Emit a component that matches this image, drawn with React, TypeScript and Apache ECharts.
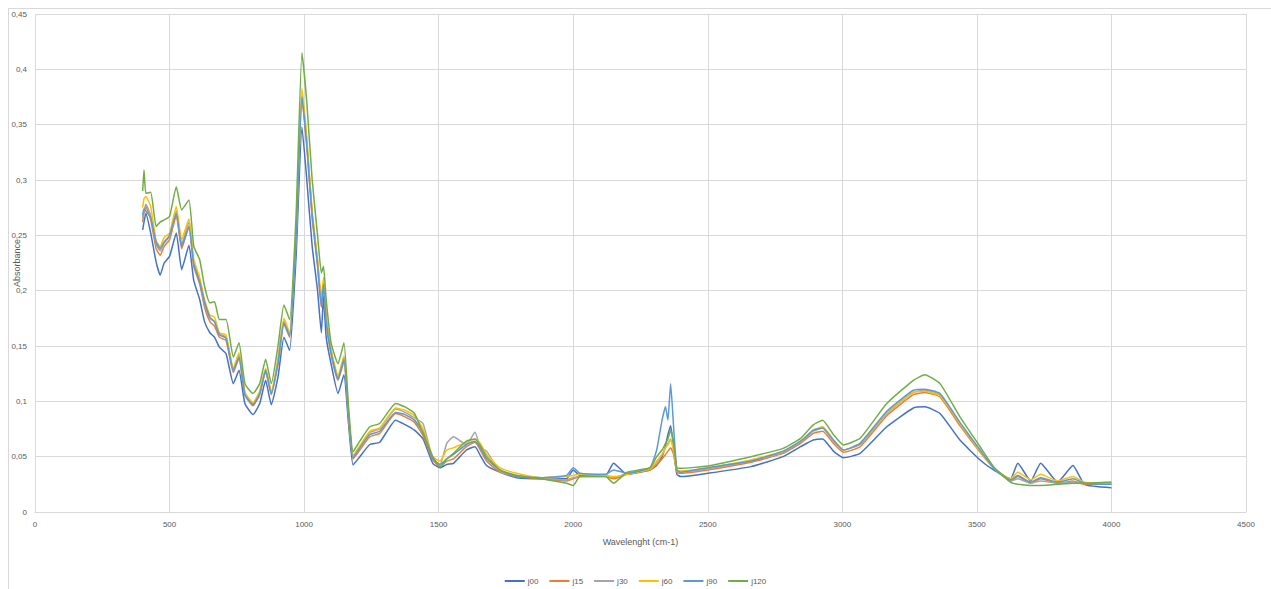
import React, { useEffect, useRef } from "react";
import * as echarts from "echarts";

const wavelengths = [
  400, 405, 412, 430, 450, 465, 480, 500, 525, 545, 572, 590, 612, 630, 650, 667, 685, 710, 737, 758,
  780, 810, 835, 857, 878, 903, 925, 946, 970, 992, 1010, 1030, 1050, 1064, 1072, 1082, 1100, 1126, 1148, 1165,
  1182, 1207, 1244, 1281, 1340, 1375, 1410, 1442, 1478, 1505, 1530, 1555, 1603, 1635, 1655, 1678, 1727, 1790, 1880, 1975,
  2000, 2025, 2120, 2150, 2200, 2285, 2310, 2330, 2343, 2352, 2362, 2373, 2385, 2400, 2500, 2660, 2780, 2845, 2892, 2927,
  2967, 3004, 3066, 3165, 3264, 3307, 3363, 3437, 3512, 3562, 3625, 3652, 3700, 3737, 3800, 3857, 3900, 4000,
];

const j00 = [
  0.255, 0.262, 0.27, 0.252, 0.226, 0.214, 0.225, 0.231, 0.252, 0.219, 0.241, 0.209, 0.192, 0.172, 0.162, 0.158, 0.149, 0.143, 0.116, 0.128,
  0.098, 0.088, 0.098, 0.119, 0.097, 0.122, 0.158, 0.146, 0.23, 0.348, 0.3, 0.24, 0.2, 0.162, 0.195, 0.158, 0.134, 0.107, 0.124, 0.08,
  0.0425, 0.05, 0.061, 0.063, 0.083, 0.079, 0.074, 0.066, 0.044, 0.04, 0.043, 0.044, 0.056, 0.059, 0.051, 0.042, 0.036, 0.031, 0.03, 0.03,
  0.038, 0.033, 0.033, 0.044, 0.034, 0.038, 0.042, 0.05, 0.06, 0.07, 0.078, 0.06, 0.034, 0.032, 0.035, 0.041, 0.05, 0.059, 0.065, 0.066,
  0.055, 0.049, 0.053, 0.077, 0.094, 0.095, 0.089, 0.065, 0.047, 0.038, 0.03, 0.044, 0.028, 0.044, 0.027, 0.042, 0.025, 0.022,
];

const j15 = [
  0.262, 0.27, 0.276, 0.264, 0.238, 0.232, 0.24, 0.246, 0.268, 0.238, 0.258, 0.222, 0.206, 0.185, 0.172, 0.168, 0.158, 0.155, 0.126, 0.139,
  0.106, 0.096, 0.106, 0.127, 0.106, 0.134, 0.17, 0.158, 0.246, 0.375, 0.33, 0.265, 0.222, 0.185, 0.205, 0.172, 0.143, 0.119, 0.136, 0.086,
  0.048, 0.056, 0.068, 0.071, 0.089, 0.086, 0.081, 0.069, 0.047, 0.041, 0.046, 0.048, 0.059, 0.063, 0.056, 0.046, 0.036, 0.032, 0.03, 0.028,
  0.03, 0.032, 0.032, 0.03, 0.034, 0.038, 0.043, 0.048, 0.052, 0.055, 0.058, 0.052, 0.036, 0.035, 0.038, 0.045, 0.053, 0.062, 0.071, 0.073,
  0.062, 0.054, 0.059, 0.087, 0.106, 0.108, 0.104, 0.078, 0.054, 0.04, 0.028, 0.032, 0.026, 0.03, 0.026, 0.028, 0.025, 0.025,
];

const j30 = [
  0.265, 0.272, 0.278, 0.268, 0.242, 0.236, 0.243, 0.249, 0.272, 0.242, 0.262, 0.225, 0.209, 0.188, 0.175, 0.172, 0.161, 0.158, 0.129, 0.142,
  0.108, 0.098, 0.108, 0.129, 0.108, 0.137, 0.173, 0.161, 0.25, 0.377, 0.335, 0.27, 0.226, 0.19, 0.208, 0.176, 0.146, 0.122, 0.14, 0.089,
  0.05, 0.059, 0.072, 0.075, 0.093, 0.09, 0.085, 0.08, 0.048, 0.043, 0.062, 0.068, 0.061, 0.072, 0.058, 0.055, 0.037, 0.033, 0.031, 0.029,
  0.031, 0.032, 0.033, 0.031, 0.035, 0.039, 0.045, 0.052, 0.058, 0.062, 0.066, 0.056, 0.037, 0.036, 0.039, 0.046, 0.054, 0.063, 0.073, 0.076,
  0.064, 0.056, 0.061, 0.089, 0.108, 0.11, 0.106, 0.08, 0.055, 0.04, 0.028, 0.03, 0.026, 0.028, 0.026, 0.027, 0.026, 0.026,
];

const j60 = [
  0.275, 0.283, 0.285, 0.276, 0.245, 0.24, 0.248, 0.252, 0.276, 0.246, 0.265, 0.228, 0.212, 0.192, 0.178, 0.176, 0.162, 0.16, 0.13, 0.144,
  0.108, 0.099, 0.109, 0.13, 0.109, 0.138, 0.175, 0.162, 0.252, 0.383, 0.338, 0.272, 0.228, 0.194, 0.212, 0.178, 0.147, 0.123, 0.141, 0.09,
  0.051, 0.06, 0.073, 0.076, 0.094, 0.092, 0.087, 0.075, 0.05, 0.046, 0.056, 0.058, 0.063, 0.066, 0.062, 0.052, 0.04, 0.035, 0.031, 0.032,
  0.033, 0.034, 0.033, 0.032, 0.034, 0.039, 0.046, 0.052, 0.058, 0.061, 0.065, 0.056, 0.038, 0.037, 0.04, 0.047, 0.055, 0.064, 0.074, 0.077,
  0.065, 0.056, 0.062, 0.09, 0.108, 0.109, 0.105, 0.08, 0.055, 0.04, 0.03, 0.036, 0.029, 0.034, 0.028, 0.032, 0.027, 0.026,
];

const j90 = [
  0.268, 0.274, 0.272, 0.266, 0.244, 0.238, 0.244, 0.25, 0.27, 0.24, 0.258, 0.224, 0.208, 0.19, 0.176, 0.172, 0.16, 0.157, 0.128, 0.14,
  0.106, 0.097, 0.107, 0.128, 0.107, 0.135, 0.171, 0.159, 0.246, 0.375, 0.332, 0.268, 0.224, 0.186, 0.206, 0.172, 0.144, 0.12, 0.138, 0.088,
  0.049, 0.058, 0.07, 0.073, 0.09, 0.088, 0.083, 0.072, 0.048, 0.043, 0.048, 0.052, 0.061, 0.064, 0.058, 0.048, 0.038, 0.032, 0.031, 0.033,
  0.04, 0.035, 0.034, 0.038, 0.035, 0.04, 0.056, 0.083, 0.095, 0.083, 0.116, 0.077, 0.038, 0.036, 0.04, 0.046, 0.055, 0.064, 0.074, 0.076,
  0.065, 0.056, 0.062, 0.091, 0.11, 0.111, 0.107, 0.081, 0.056, 0.04, 0.029, 0.033, 0.027, 0.031, 0.027, 0.03, 0.026, 0.025,
];

const j120 = [
  0.29, 0.309, 0.288, 0.289, 0.258, 0.262, 0.264, 0.267, 0.294, 0.273, 0.282, 0.24, 0.228, 0.204, 0.189, 0.19, 0.174, 0.174, 0.14, 0.153,
  0.116, 0.107, 0.116, 0.138, 0.116, 0.15, 0.187, 0.174, 0.267, 0.415, 0.37, 0.3, 0.25, 0.216, 0.222, 0.192, 0.153, 0.134, 0.153, 0.095,
  0.0545, 0.064, 0.077, 0.08, 0.098, 0.095, 0.089, 0.071, 0.05, 0.041, 0.048, 0.053, 0.064, 0.066, 0.06, 0.05, 0.038, 0.033, 0.03, 0.026,
  0.024, 0.032, 0.032, 0.026, 0.036, 0.04, 0.05, 0.056, 0.062, 0.066, 0.074, 0.062, 0.04, 0.0395, 0.0416, 0.05, 0.0575, 0.0666, 0.0787, 0.083,
  0.07, 0.0606, 0.0666, 0.098, 0.119, 0.124, 0.116, 0.086, 0.059, 0.041, 0.027, 0.025, 0.024, 0.024, 0.025, 0.026, 0.026, 0.027,
];

const seriesNames = ["j00", "j15", "j30", "j60", "j90", "j120"];
const seriesValues = [j00, j15, j30, j60, j90, j120];
const seriesColors = ["#4472C4", "#ED7D31", "#A5A5A5", "#FFC000", "#5B9BD5", "#70AD47"];

const xAxisTitle = "Wavelenght (cm-1)";
const yAxisTitle = "Absorbance";

export default function App() {
  const ref = useRef<HTMLDivElement>(null);

  useEffect(() => {
    if (!ref.current) return;
    const chart = echarts.init(ref.current, undefined, { renderer: "svg" });
    const font = "'Liberation Sans', Arial, sans-serif";
    const labelColor = "#595959";
    const gridColor = "#d9d9d9";
    chart.setOption({
      animation: false,
      backgroundColor: "#ffffff",
      textStyle: { fontFamily: font },
      graphic: [
        { type: "line", shape: { x1: 8, y1: 8.5, x2: 1271, y2: 8.5 }, style: { stroke: gridColor, lineWidth: 1 } },
        { type: "line", shape: { x1: 8.5, y1: 8, x2: 8.5, y2: 589 }, style: { stroke: gridColor, lineWidth: 1 } },
      ],
      grid: { left: 35, right: 25, top: 14, bottom: 77, containLabel: false, outerBoundsMode: "none" },
      legend: {
        data: seriesNames,
        left: "center",
        top: 572,
        itemWidth: 20,
        itemHeight: 2,
        itemGap: 11,
        icon: "rect",
        textStyle: { fontSize: 8, color: labelColor, fontFamily: font, padding: [0, 0, 0, -2] },
      },
      xAxis: {
        type: "value",
        min: 0,
        max: 4500,
        interval: 500,
        name: xAxisTitle,
        nameLocation: "middle",
        nameGap: 25,
        nameMoveOverlap: false,
        nameTextStyle: { fontSize: 9, color: labelColor, fontFamily: font },
        axisLine: { show: true, lineStyle: { color: gridColor } },
        axisTick: { show: false },
        axisLabel: { fontSize: 8, color: labelColor, margin: 8, fontFamily: font, formatter: (v: number) => String(v) },
        splitLine: { show: true, lineStyle: { color: gridColor, width: 1 } },
      },
      yAxis: {
        type: "value",
        min: 0,
        max: 0.45,
        interval: 0.05,
        name: yAxisTitle,
        nameLocation: "middle",
        nameRotate: 90,
        nameGap: 14,
        nameMoveOverlap: false,
        nameTextStyle: { fontSize: 9, color: labelColor, fontFamily: font },
        axisLine: { show: false },
        axisTick: { show: false },
        axisLabel: {
          fontSize: 8,
          color: labelColor,
          margin: 8,
          fontFamily: font,
          formatter: (v: number) => String(Math.round(v * 100) / 100).replace(".", ","),
        },
        splitLine: { show: true, lineStyle: { color: gridColor, width: 1 } },
      },
      series: seriesNames.map((name, i) => ({
        name,
        type: "line",
        showSymbol: false,
        symbol: "none",
        smooth: 0.15,
        data: wavelengths.map((w, k) => [w, seriesValues[i][k]]),
        lineStyle: { width: 1.5, color: seriesColors[i] },
        itemStyle: { color: seriesColors[i] },
        z: 2 + i,
      })),
    });
    return () => chart.dispose();
  }, []);

  return (
    <div
      ref={ref}
      style={{ position: "absolute", left: 0, top: 0, width: 1271, height: 589, background: "#fff" }}
    />
  );
}
